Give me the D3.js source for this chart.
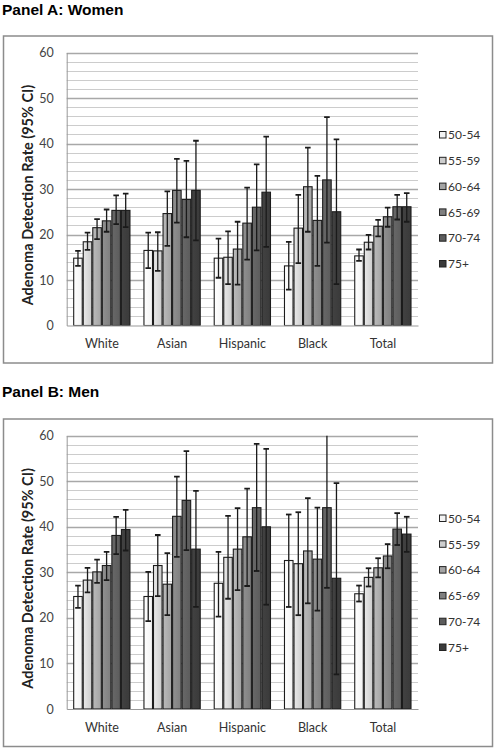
<!DOCTYPE html>
<html>
<head>
<meta charset="utf-8">
<script src="https://cdn.jsdelivr.net/npm/d3@7"></script>
<style>
  html, body { margin: 0; padding: 0; background: #fff; }
  svg { display: block; }
</style>
</head>
<body>
<svg id="chart" width="496" height="750"></svg>
<script>
// ---------- DATA ----------
const categories = ["White", "Asian", "Hispanic", "Black", "Total"];
const ageGroups = ["50-54", "55-59", "60-64", "65-69", "70-74", "75+"];
const yTicks = [0, 10, 20, 30, 40, 50, 60];

// Women: rows = categories, columns = age groups
const womenRate = [
  [14.8, 18.4, 21.5, 23.0, 25.3, 25.3],
  [16.5, 16.4, 24.6, 29.7, 27.7, 29.7],
  [14.8, 15.0, 16.8, 22.5, 26.0, 29.3],
  [13.1, 21.4, 30.5, 23.1, 32.0, 25.0],
  [15.3, 18.3, 21.8, 23.9, 26.1, 26.1]
];
const womenLower = [
  [13.1, 16.6, 19.0, 20.6, 22.3, 21.6],
  [12.6, 12.0, 17.5, 22.6, 19.4, 18.7],
  [10.5, 9.1, 9.0, 14.5, 16.5, 17.3],
  [7.9, 13.7, 20.6, 13.1, 18.2, 9.1],
  [14.2, 16.7, 19.6, 21.7, 23.3, 22.8]
];
const womenUpper = [
  [16.4, 20.4, 23.4, 25.5, 28.6, 29.0],
  [20.4, 20.5, 29.5, 36.6, 36.2, 40.6],
  [19.1, 20.7, 22.8, 30.3, 35.4, 41.5],
  [18.4, 28.7, 39.1, 32.9, 45.8, 40.9],
  [16.7, 19.9, 23.2, 25.9, 28.7, 29.1]
];

// Men
const menRate = [
  [24.7, 28.3, 30.1, 31.5, 38.1, 39.4],
  [24.7, 31.5, 27.4, 42.3, 45.8, 35.1],
  [27.6, 33.3, 35.1, 37.8, 44.2, 40.0],
  [32.6, 31.9, 34.7, 32.9, 44.2, 28.7],
  [25.3, 28.9, 31.0, 33.6, 39.5, 38.4]
];
const menLower = [
  [22.2, 25.6, 27.7, 28.3, 34.0, 34.8],
  [19.3, 24.8, 20.6, 33.4, 34.9, 22.4],
  [20.3, 24.2, 26.1, 27.0, 30.3, 22.9],
  [22.4, 20.6, 23.2, 21.6, 26.6, 7.6],
  [23.6, 26.9, 28.9, 30.9, 36.0, 34.5]
];
const menUpper = [
  [27.1, 31.0, 32.8, 34.5, 42.2, 43.7],
  [30.1, 38.2, 34.2, 51.0, 56.6, 47.9],
  [34.5, 42.4, 44.1, 48.4, 58.2, 57.1],
  [42.7, 43.2, 46.3, 44.2, 62.0, 49.6],
  [27.1, 30.9, 33.1, 36.2, 43.0, 42.2]
];

const ageColors = ["#f3f3f3", "#cdcdcd", "#a4a4a4", "#7f7f7f", "#5c5c5c", "#3a3a3a"];

// ---------- DRAW ----------
const svg = d3.select("#chart");
const FONT = "Lato, 'Open Sans', 'Noto Sans', sans-serif";

// gradients for bar fills
const defs = svg.append("defs");
ageColors.forEach((c, i) => {
  const g = defs.append("linearGradient").attr("id", "grad" + i)
    .attr("x1", "0%").attr("x2", "100%").attr("y1", "0%").attr("y2", "0%");
  g.append("stop").attr("offset", "0%").attr("stop-color", d3.color(c).brighter(0.35).formatHex());
  g.append("stop").attr("offset", "100%").attr("stop-color", c);
});

function drawPanel(cfg) {
  const { title, titleY, boxTop, boxBottom, plotTop, plotBottom, rate, lower, upper, legendY, id } = cfg;
  const plotLeft = 66.7, plotRight = 418;

  svg.append("text")
    .attr("x", 2).attr("y", titleY)
    .attr("font-family", "'Liberation Sans', Arial, sans-serif")
    .attr("font-weight", "bold").attr("font-size", 15.5)
    .attr("fill", "#000")
    .text(title);

  svg.append("rect")
    .attr("x", 3.5).attr("y", boxTop)
    .attr("width", 489).attr("height", boxBottom - boxTop)
    .attr("fill", "none").attr("stroke", "#8c8c8c").attr("stroke-width", 1.5);

  const y = d3.scaleLinear().domain([0, 60]).range([plotBottom, plotTop]);
  const x0 = d3.scaleBand().domain(categories).range([plotLeft, plotRight])
    .paddingInner(0.185).paddingOuter(0.0925);
  const x1 = d3.scaleBand().domain(ageGroups).range([0, x0.bandwidth()]);

  // gridlines: minor every 2, major every 10
  const gridVals = d3.range(2, 61, 2);
  svg.append("g").selectAll("line").data(gridVals).join("line")
    .attr("x1", plotLeft).attr("x2", plotRight)
    .attr("y1", d => Math.round(y(d)) + 0.5).attr("y2", d => Math.round(y(d)) + 0.5)
    .attr("stroke", d => d % 10 === 0 ? "#a8a8a8" : "#cccccc")
    .attr("stroke-width", d => d % 10 === 0 ? 1.3 : 1);

  // y axis
  const yAxis = d3.axisLeft(y).tickValues(yTicks).tickSize(0).tickPadding(13).tickFormat(d3.format("d"));
  const ya = svg.append("g").attr("transform", `translate(${plotLeft},0)`).call(yAxis);
  ya.select(".domain").attr("stroke", "#999");
  ya.selectAll("text").attr("font-family", FONT).attr("font-size", 12.5).attr("fill", "#444");

  // x axis
  const xAxis = d3.axisBottom(x0).tickSize(0).tickPadding(14).tickSizeOuter(0);
  const xa = svg.append("g").attr("transform", `translate(0,${plotBottom})`).call(xAxis);
  xa.select(".domain").attr("stroke", "#999");
  xa.selectAll("text").attr("font-family", FONT).attr("font-size", 12.5).attr("fill", "#333");

  // axis title
  svg.append("text")
    .attr("transform", `translate(33,${(plotTop + plotBottom) / 2 + 6}) rotate(-90)`)
    .attr("text-anchor", "middle")
    .attr("font-family", FONT).attr("font-weight", "bold").attr("font-size", 14.5)
    .attr("fill", "#222")
    .text("Adenoma Detection Rate (95% CI)");

  // clip
  defs.append("clipPath").attr("id", "clip" + id).append("rect")
    .attr("x", plotLeft).attr("y", plotTop).attr("width", plotRight - plotLeft).attr("height", plotBottom - plotTop);

  const groups = svg.append("g").attr("clip-path", `url(#clip${id})`)
    .selectAll("g.cat").data(categories).join("g")
    .attr("transform", c => `translate(${x0(c)},0)`);

  groups.each(function (c, ci) {
    const g = d3.select(this);
    const rows = ageGroups.map((a, ai) => ({ a, ai, v: rate[ci][ai], lo: lower[ci][ai], hi: upper[ci][ai] }));
    g.selectAll("rect").data(rows).join("rect")
      .attr("x", d => x1(d.a) + 0.5)
      .attr("y", d => y(d.v))
      .attr("width", x1.bandwidth() - 1)
      .attr("height", d => y(0) - y(d.v))
      .attr("fill", d => `url(#grad${d.ai})`)
      .attr("stroke", "#1c1c1c").attr("stroke-width", 1.1);

    const cap = 2.8;
    const eb = g.selectAll("g.eb").data(rows).join("g").attr("class", "eb")
      .attr("stroke", "#1a1a1a").attr("stroke-width", 1.3);
    eb.append("line")
      .attr("x1", d => x1(d.a) + x1.bandwidth() / 2).attr("x2", d => x1(d.a) + x1.bandwidth() / 2)
      .attr("y1", d => y(d.hi)).attr("y2", d => y(d.lo));
    eb.append("line")
      .attr("x1", d => x1(d.a) + x1.bandwidth() / 2 - cap).attr("x2", d => x1(d.a) + x1.bandwidth() / 2 + cap)
      .attr("y1", d => y(d.hi)).attr("y2", d => y(d.hi)).attr("stroke-width", 1.8);
    eb.append("line")
      .attr("x1", d => x1(d.a) + x1.bandwidth() / 2 - cap).attr("x2", d => x1(d.a) + x1.bandwidth() / 2 + cap)
      .attr("y1", d => y(d.lo)).attr("y2", d => y(d.lo)).attr("stroke-width", 1.8);
  });

  // legend
  const lg = svg.append("g").selectAll("g").data(ageGroups).join("g")
    .attr("transform", (d, i) => `translate(439,${legendY + i * 25.8})`);
  lg.append("rect")
    .attr("x", 0.5).attr("y", -3.5).attr("width", 6.5).attr("height", 6.5)
    .attr("fill", (d, i) => ageColors[i]).attr("stroke", "#222").attr("stroke-width", 1);
  lg.append("text")
    .attr("x", 9).attr("y", 0).attr("dy", "0.35em")
    .attr("font-family", FONT).attr("font-size", 12).attr("fill", "#333")
    .text(d => d);
}

drawPanel({
  id: "A", title: "Panel A: Women", titleY: 15,
  boxTop: 36, boxBottom: 363, plotTop: 52.5, plotBottom: 325.5,
  rate: womenRate, lower: womenLower, upper: womenUpper, legendY: 135
});
drawPanel({
  id: "B", title: "Panel B: Men", titleY: 397,
  boxTop: 419, boxBottom: 746.5, plotTop: 435.7, plotBottom: 709,
  rate: menRate, lower: menLower, upper: menUpper, legendY: 518.5
});
</script>
</body>
</html>
